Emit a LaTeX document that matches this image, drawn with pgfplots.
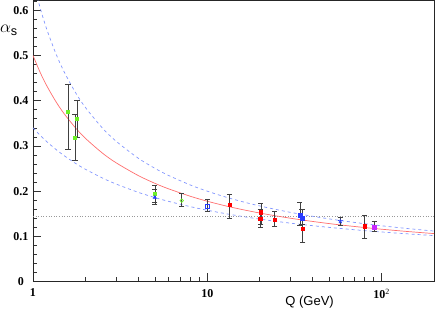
\documentclass[border=0pt]{standalone}
\usepackage{fontspec}
\setmainfont{Liberation Serif}
\setsansfont{Liberation Sans}
\usepackage{pgfplots}
\pgfplotsset{compat=1.18}
\usepackage{pgfplotstable}
\definecolor{curvered}{RGB}{255,110,110}
\definecolor{curveblue}{RGB}{130,150,255}
\definecolor{mgreen}{RGB}{110,240,40}
\definecolor{mblue}{RGB}{40,60,255}
\definecolor{mred}{RGB}{255,0,0}
\definecolor{mpurple}{RGB}{200,40,255}

\pgfplotstableread{
Q c u l
1 0.5000 0.6667 0.3401
1.1 0.4624 0.6049 0.3233
1.2 0.4329 0.5579 0.3094
1.35 0.3987 0.5051 0.2926
1.5 0.3726 0.4659 0.2791
1.75 0.3403 0.4186 0.2616
2 0.3167 0.3850 0.2483
2.5 0.2842 0.3397 0.2290
3 0.2626 0.3103 0.2156
4 0.2348 0.2733 0.1976
5 0.2173 0.2505 0.1858
6 0.2050 0.2346 0.1773
8 0.1885 0.2135 0.1656
10 0.1776 0.1998 0.1577
13 0.1665 0.1859 0.1495
17 0.1568 0.1737 0.1421
22 0.1486 0.1636 0.1358
30 0.1400 0.1530 0.1291
40 0.1330 0.1445 0.1236
55 0.1262 0.1362 0.1182
75 0.1205 0.1292 0.1135
100 0.1157 0.1233 0.1096
140 0.1107 0.1173 0.1055
200 0.1060 0.1116 0.1016
}\curves

\pgfplotstableread{
x y ep em
1.59 0.376 0.061 0.083
1.79 0.360 0.040 0.040
1.74 0.319 0.052 0.050
5.0 0.194 0.018 0.018
}\greensq

\pgfplotstableread{
x y ep em
7.14 0.179 0.016 0.013
}\greencirc

\pgfplotstableread{
x y ep em
5.0 0.186 0.019 0.016
}\bluetri

\pgfplotstableread{
x y ep em
10.06 0.167 0.014 0.012
}\blueopen

\pgfplotstableread{
x y ep em
13.4 0.170 0.022 0.030
20.3 0.153 0.019 0.026
20.1 0.139 0.020 0.020
24.4 0.1365 0.019 0.014
35.3 0.117 0.028 0.030
80 0.1224 0.025 0.026
}\redsq

\pgfplotstableread{
x y ep em
34.0 0.146 0.0295 0.022
35.0 0.141 0.018 0.015
}\bluesq

\pgfplotstableread{
x y ep em
58 0.1335 0.0075 0.0095
}\bluestar

\pgfplotstableread{
x y ep em
90.8 0.120 0.0135 0.009
}\purplesq

\begin{document}
\begin{tikzpicture}[x=1pt,y=1pt]
\useasboundingbox (-33,-28.5) rectangle (403,281.5);
\begin{axis}[
  at={(0,0)}, anchor=south west,
  scale only axis, width=401pt, height=281pt,
  xmode=log, log basis x=10,
  xmin=1, xmax=200, ymin=0, ymax=0.6217,
  xtick={1,10,100},
  xticklabels={1,10,10\textsuperscript{\mdseries 2}},
  minor xtick={2,3,4,5,6,7,8,9,20,30,40,50,60,70,80,90},
  ytick={0,0.1,0.2,0.3,0.4,0.5,0.6},
  yticklabels={0,0.1,0.2,0.3,0.4,0.5,0.6},
  minor ytick={0.02,0.04,0.06,0.08,0.12,0.14,0.16,0.18,0.22,0.24,0.26,0.28,0.32,0.34,0.36,0.38,0.42,0.44,0.46,0.48,0.52,0.54,0.56,0.58,0.62},
  xtick pos=left, ytick pos=left,
  tick align=inside,
  major tick length=8pt, minor tick length=4pt,
  every tick/.style={black!80, line width=0.6pt},
  axis line style={black!85, line width=0.8pt},
  yticklabel style={font=\fontsize{12}{12}\selectfont\bfseries, text width=17pt, align=center},
  xticklabel style={font=\fontsize{12}{12}\selectfont\bfseries, yshift=-4pt},
  error bars/error bar style={black!75, line width=0.6pt},
  error bars/error mark options={rotate=90, mark size=2.6pt, black!75, line width=0.6pt},
]
\addplot[gray!80, dotted, line width=0.6pt] coordinates {(1,0.145) (200,0.145)};
\addplot[curveblue, dashed, line width=0.7pt, smooth] table[x=Q, y=u] {\curves};
\addplot[curveblue, dashed, line width=0.7pt, smooth] table[x=Q, y=l] {\curves};
\addplot[curvered, line width=0.7pt, smooth] table[x=Q, y=c] {\curves};

\addplot[only marks, mark=square*, mark size=1.6pt, mgreen,
  error bars/.cd, y dir=both, y explicit]
  table[x=x, y=y, y error plus=ep, y error minus=em] {\greensq};
\addplot[only marks, mark=triangle*, mark size=2.0pt, mblue,
  error bars/.cd, y dir=both, y explicit]
  table[x=x, y=y, y error plus=ep, y error minus=em] {\bluetri};
\addplot[only marks, mark=o, mark size=1.7pt, mgreen, line width=0.7pt,
  error bars/.cd, y dir=both, y explicit]
  table[x=x, y=y, y error plus=ep, y error minus=em] {\greencirc};
\addplot[only marks, mark=square, mark size=2.0pt, mblue, line width=0.7pt,
  error bars/.cd, y dir=both, y explicit]
  table[x=x, y=y, y error plus=ep, y error minus=em] {\blueopen};
\addplot[only marks, mark=square*, mark size=1.7pt, mred,
  error bars/.cd, y dir=both, y explicit]
  table[x=x, y=y, y error plus=ep, y error minus=em] {\redsq};
\addplot[only marks, mark=square*, mark size=2.0pt, mblue,
  error bars/.cd, y dir=both, y explicit]
  table[x=x, y=y, y error plus=ep, y error minus=em] {\bluesq};
\addplot[only marks, mark=star, mark size=2.4pt, mblue, line width=0.8pt,
  error bars/.cd, y dir=both, y explicit]
  table[x=x, y=y, y error plus=ep, y error minus=em] {\bluestar};
\addplot[only marks, mark=square*, mark size=2.2pt, mpurple,
  error bars/.cd, y dir=both, y explicit]
  table[x=x, y=y, y error plus=ep, y error minus=em] {\purplesq};
\end{axis}
\node[anchor=west, inner sep=0pt] at (-33,251) {\fontsize{18}{18}\selectfont$\alpha_{\mathsf{s}}$};
\node[anchor=north east, inner sep=0pt, font=\sffamily\fontsize{13}{13}\selectfont] at (301,-14) {Q (GeV)};
\end{tikzpicture}
\end{document}
